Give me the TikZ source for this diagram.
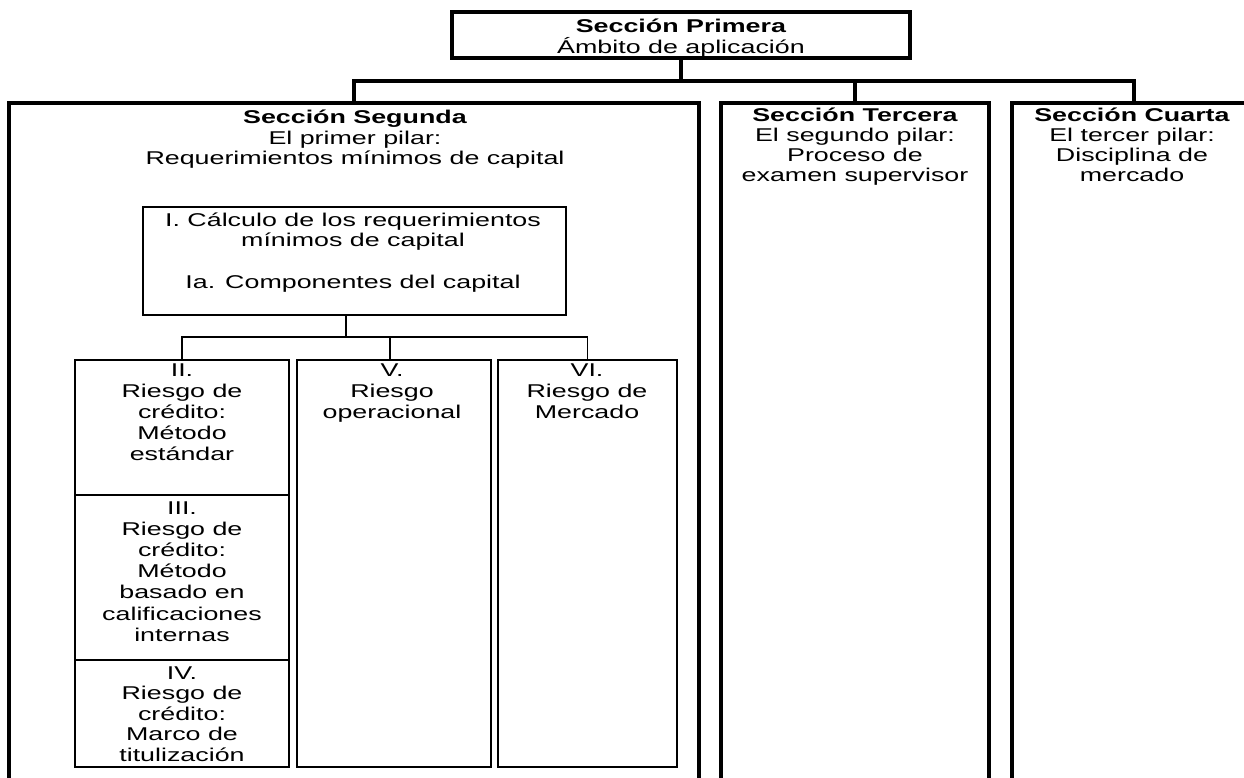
\documentclass[tikz,border=0pt]{standalone}
\usepackage{fontspec}
\setmainfont[FakeStretch=1.45]{Liberation Sans}
\begin{document}
\begin{tikzpicture}[x=1pt,y=-1pt,
  thickbox/.style={draw=black,line width=3.6pt,rectangle,inner sep=0pt,outer sep=0pt},
  thinbox/.style={draw=black,line width=1.8pt,rectangle,inner sep=0pt,outer sep=0pt},
  thickconn/.style={draw=black,line width=3.6pt},
  thinconn/.style={draw=black,line width=1.8pt},
  midconn/.style={draw=black,line width=2.8pt},
  txt/.style={align=center,anchor=base,inner sep=0pt,text=black,font=\fontsize{18.5}{20.3}\selectfont},
  txtlow/.style={align=center,anchor=base,inner sep=0pt,text=black,font=\fontsize{18.5}{21.2}\selectfont},
  txtiv/.style={align=center,anchor=base,inner sep=0pt,text=black,font=\fontsize{18.5}{20.5}\selectfont}]
\useasboundingbox (0,0) rectangle (1244,778);
\fill[white] (0,0) rectangle (1244,778);
\clip (0,0) rectangle (1244,778);

% boxes
\node[thickbox,minimum width=458pt,minimum height=46pt] (top) at (681,35) {};
\node[thickbox,minimum width=690pt,minimum height=717pt] (seg) at (354,461.5) {};
\node[thickbox,minimum width=268pt,minimum height=717pt] (ter) at (855,461.5) {};
\node[thickbox,minimum width=244pt,minimum height=717pt] (cua) at (1134,461.5) {};
\node[thinbox,minimum width=423pt,minimum height=108pt] (calc) at (354.5,261) {};
\node[thinbox,minimum width=214pt,minimum height=135pt] (c2) at (182,427.5) {};
\node[thinbox,minimum width=214pt,minimum height=165pt] (c3) at (182,577.5) {};
\node[thinbox,minimum width=214pt,minimum height=107pt] (c4) at (182,713.5) {};
\node[thinbox,minimum width=194pt,minimum height=407pt] (c5) at (394,563.5) {};
\node[thinbox,minimum width=179pt,minimum height=407pt] (c6) at (587.5,563.5) {};

% connectors top
\coordinate (busA) at (0,81);
\draw[thickconn] (top.south) -- (top.south |- busA);
\draw[thickconn] (seg.north) -- (seg.north |- busA) -| (cua.north);
\draw[thickconn] (ter.north) -- (ter.north |- busA);

% connectors lower
\coordinate (busB) at (0,337);
\coordinate (calcstem) at (346,315);
\draw[midconn] (calcstem) -- (calcstem |- busB);
\draw[thinconn] (c2.north) -- (c2.north |- busB) -| (c6.north);
\draw[thinconn] ([xshift=-4pt]c5.north) -- ([xshift=-4pt]c5.north |- busB);

% texts (anchor = baseline of last line)
\node[txt] (ttop) at (681,53.3) {\textbf{Sección Primera}\\Ámbito de aplicación};
\node[txt] (tseg) at (355,164.6) {\textbf{Sección Segunda}\\El primer pilar:\\Requerimientos mínimos de capital};
\node[txt] (tter) at (855,181.9) {\textbf{Sección Tercera}\\El segundo pilar:\\Proceso de\\examen supervisor};
\node[txt] (tcua) at (1132,181.9) {\textbf{Sección Cuarta}\\El tercer pilar:\\Disciplina de\\mercado};
\node[txt] (tcalc) at (353,288.6) {I. Cálculo de los requerimientos\\mínimos de capital\\[22pt]Ia. Componentes del capital};
\node[txtlow] (t2) at (182,460.8) {II.\\Riesgo de\\crédito:\\Método\\estándar};
\node[txtlow] (t3) at (182,641.2) {III.\\Riesgo de\\crédito:\\Método\\basado en\\calificaciones\\internas};
\node[txtiv] (t4) at (182,761) {IV.\\Riesgo de\\crédito:\\Marco de\\titulización};
\node[txtlow] (t5) at (392,418.4) {V.\\Riesgo\\operacional};
\node[txtlow] (t6) at (587,418.4) {VI.\\Riesgo de\\Mercado};
\end{tikzpicture}
\end{document}
